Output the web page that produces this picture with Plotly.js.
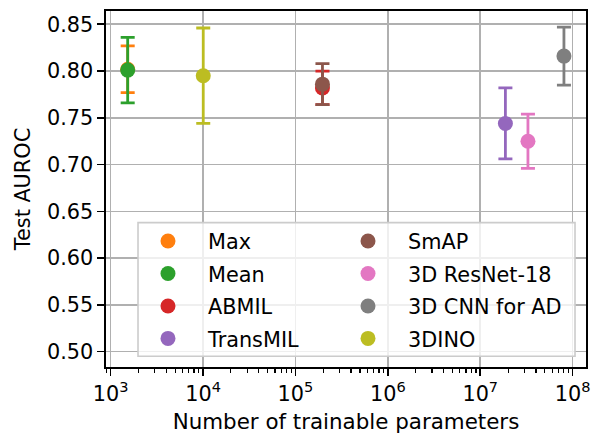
<!DOCTYPE html>
<html>
<head>
<meta charset="utf-8">
<script src="https://cdn.plot.ly/plotly-3.0.1.min.js"></script>
<style>html,body{margin:0;padding:0;background:#fff;}#chart{width:591px;height:434px;}</style>
</head>
<body>
<div id="chart"></div>
<script>
const methods = ["Max", "Mean", "ABMIL", "TransMIL", "SmAP", "3D ResNet-18", "3D CNN for AD", "3DINO"];
const params  = [1530, 1530, 196000, 18700000, 196000, 32800000, 80400000, 10050];
const auroc   = [0.802, 0.801, 0.782, 0.744, 0.786, 0.725, 0.816, 0.795];
const auroc_err = [0.025, 0.035, 0.018, 0.038, 0.022, 0.029, 0.031, 0.051];
const colors  = ["#ff7f0e", "#2ca02c", "#d62728", "#9467bd", "#8c564b", "#e377c2", "#7f7f7f", "#bcbd22"];
const legendOf = ["legend", "legend", "legend", "legend", "legend2", "legend2", "legend2", "legend2"];
const yTicks = [0.50, 0.55, 0.60, 0.65, 0.70, 0.75, 0.80, 0.85];
const xTicks = [1e3, 1e4, 1e5, 1e6, 1e7, 1e8];
const xTickText = ["10<sup>3</sup>", "10<sup>4</sup>", "10<sup>5</sup>", "10<sup>6</sup>", "10<sup>7</sup>", "10<sup>8</sup>"];
const decades = [100, 1000, 10000, 100000, 1000000, 10000000, 100000000];
const minorDigits = [2, 3, 4, 5, 6, 7, 8, 9];

const minorVals = [];
decades.forEach(d => minorDigits.forEach(k => minorVals.push(d * k)));

const FONT = "DejaVu Sans, Liberation Sans, sans-serif";
const FS = 20.8;
const X_RANGE = [2.950, 8.144];

const traces = methods.map((m, i) => ({
  type: "scatter",
  mode: "markers",
  name: m,
  x: [params[i]],
  y: [auroc[i]],
  legend: legendOf[i],
  legendgroup: "g" + i,
  marker: {color: colors[i], size: 15},
  error_y: {type: "data", array: [auroc_err[i]], visible: true, color: colors[i], thickness: 2.8, width: 7},
  hoverinfo: "skip"
}));

const legendBase = {
  font: {family: FONT, size: FS, color: "#000"},
  bgcolor: "rgba(0,0,0,0)",
  borderwidth: 0,
  traceorder: "grouped",
  tracegroupgap: 2.4,
  itemwidth: 70,
  xanchor: "left",
  yanchor: "top",
  itemclick: false
};

const layout = {
  width: 591, height: 434,
  margin: {l: 106, r: 5, t: 11, b: 67},
  paper_bgcolor: "#fff",
  plot_bgcolor: "#fff",
  font: {family: FONT, size: FS, color: "#000"},
  showlegend: true,
  legend: Object.assign({}, legendBase, {x: 0.0458, y: 0.41}),
  legend2: Object.assign({}, legendBase, {x: 0.4625, y: 0.41}),
  xaxis: {
    type: "log",
    range: X_RANGE,
    tickmode: "array",
    tickvals: xTicks,
    ticktext: xTickText,
    showgrid: true, gridcolor: "#b0b0b0", gridwidth: 1.6,
    showline: true, mirror: true, linecolor: "#000", linewidth: 1.6,
    ticks: "outside", ticklen: 7, tickwidth: 1.6, tickcolor: "#000",
    minor: {tickmode: "array", tickvals: minorVals, ticks: "outside", ticklen: 4.2, tickwidth: 1.2, tickcolor: "#000", showgrid: false},
    tickfont: {family: FONT, size: FS},
    automargin: false,
    title: {text: "Number of trainable parameters", font: {family: FONT, size: 21.4}, standoff: 10},
    zeroline: false
  },
  yaxis: {
    range: [0.4836, 0.8642],
    tickvals: yTicks,
    tickformat: ".2f",
    showgrid: true, gridcolor: "#b0b0b0", gridwidth: 1.6,
    showline: true, mirror: true, linecolor: "#000", linewidth: 1.6,
    ticks: "outside", ticklen: 7, tickwidth: 1.6, tickcolor: "#000",
    tickfont: {family: FONT, size: FS},
    automargin: false,
    title: {text: "Test AUROC", font: {family: FONT, size: FS}, standoff: 10},
    zeroline: false
  },
  shapes: [{
    type: "rect", xref: "paper", yref: "paper", layer: "above",
    x0: 0.0667, x1: 0.9771, y0: 0.030, y1: 0.4056,
    fillcolor: "rgba(255,255,255,0.8)",
    line: {color: "#cccccc", width: 1.6}
  }]
};

Plotly.newPlot("chart", traces, layout, {displayModeBar: false, staticPlot: true});
</script>
</body>
</html>
